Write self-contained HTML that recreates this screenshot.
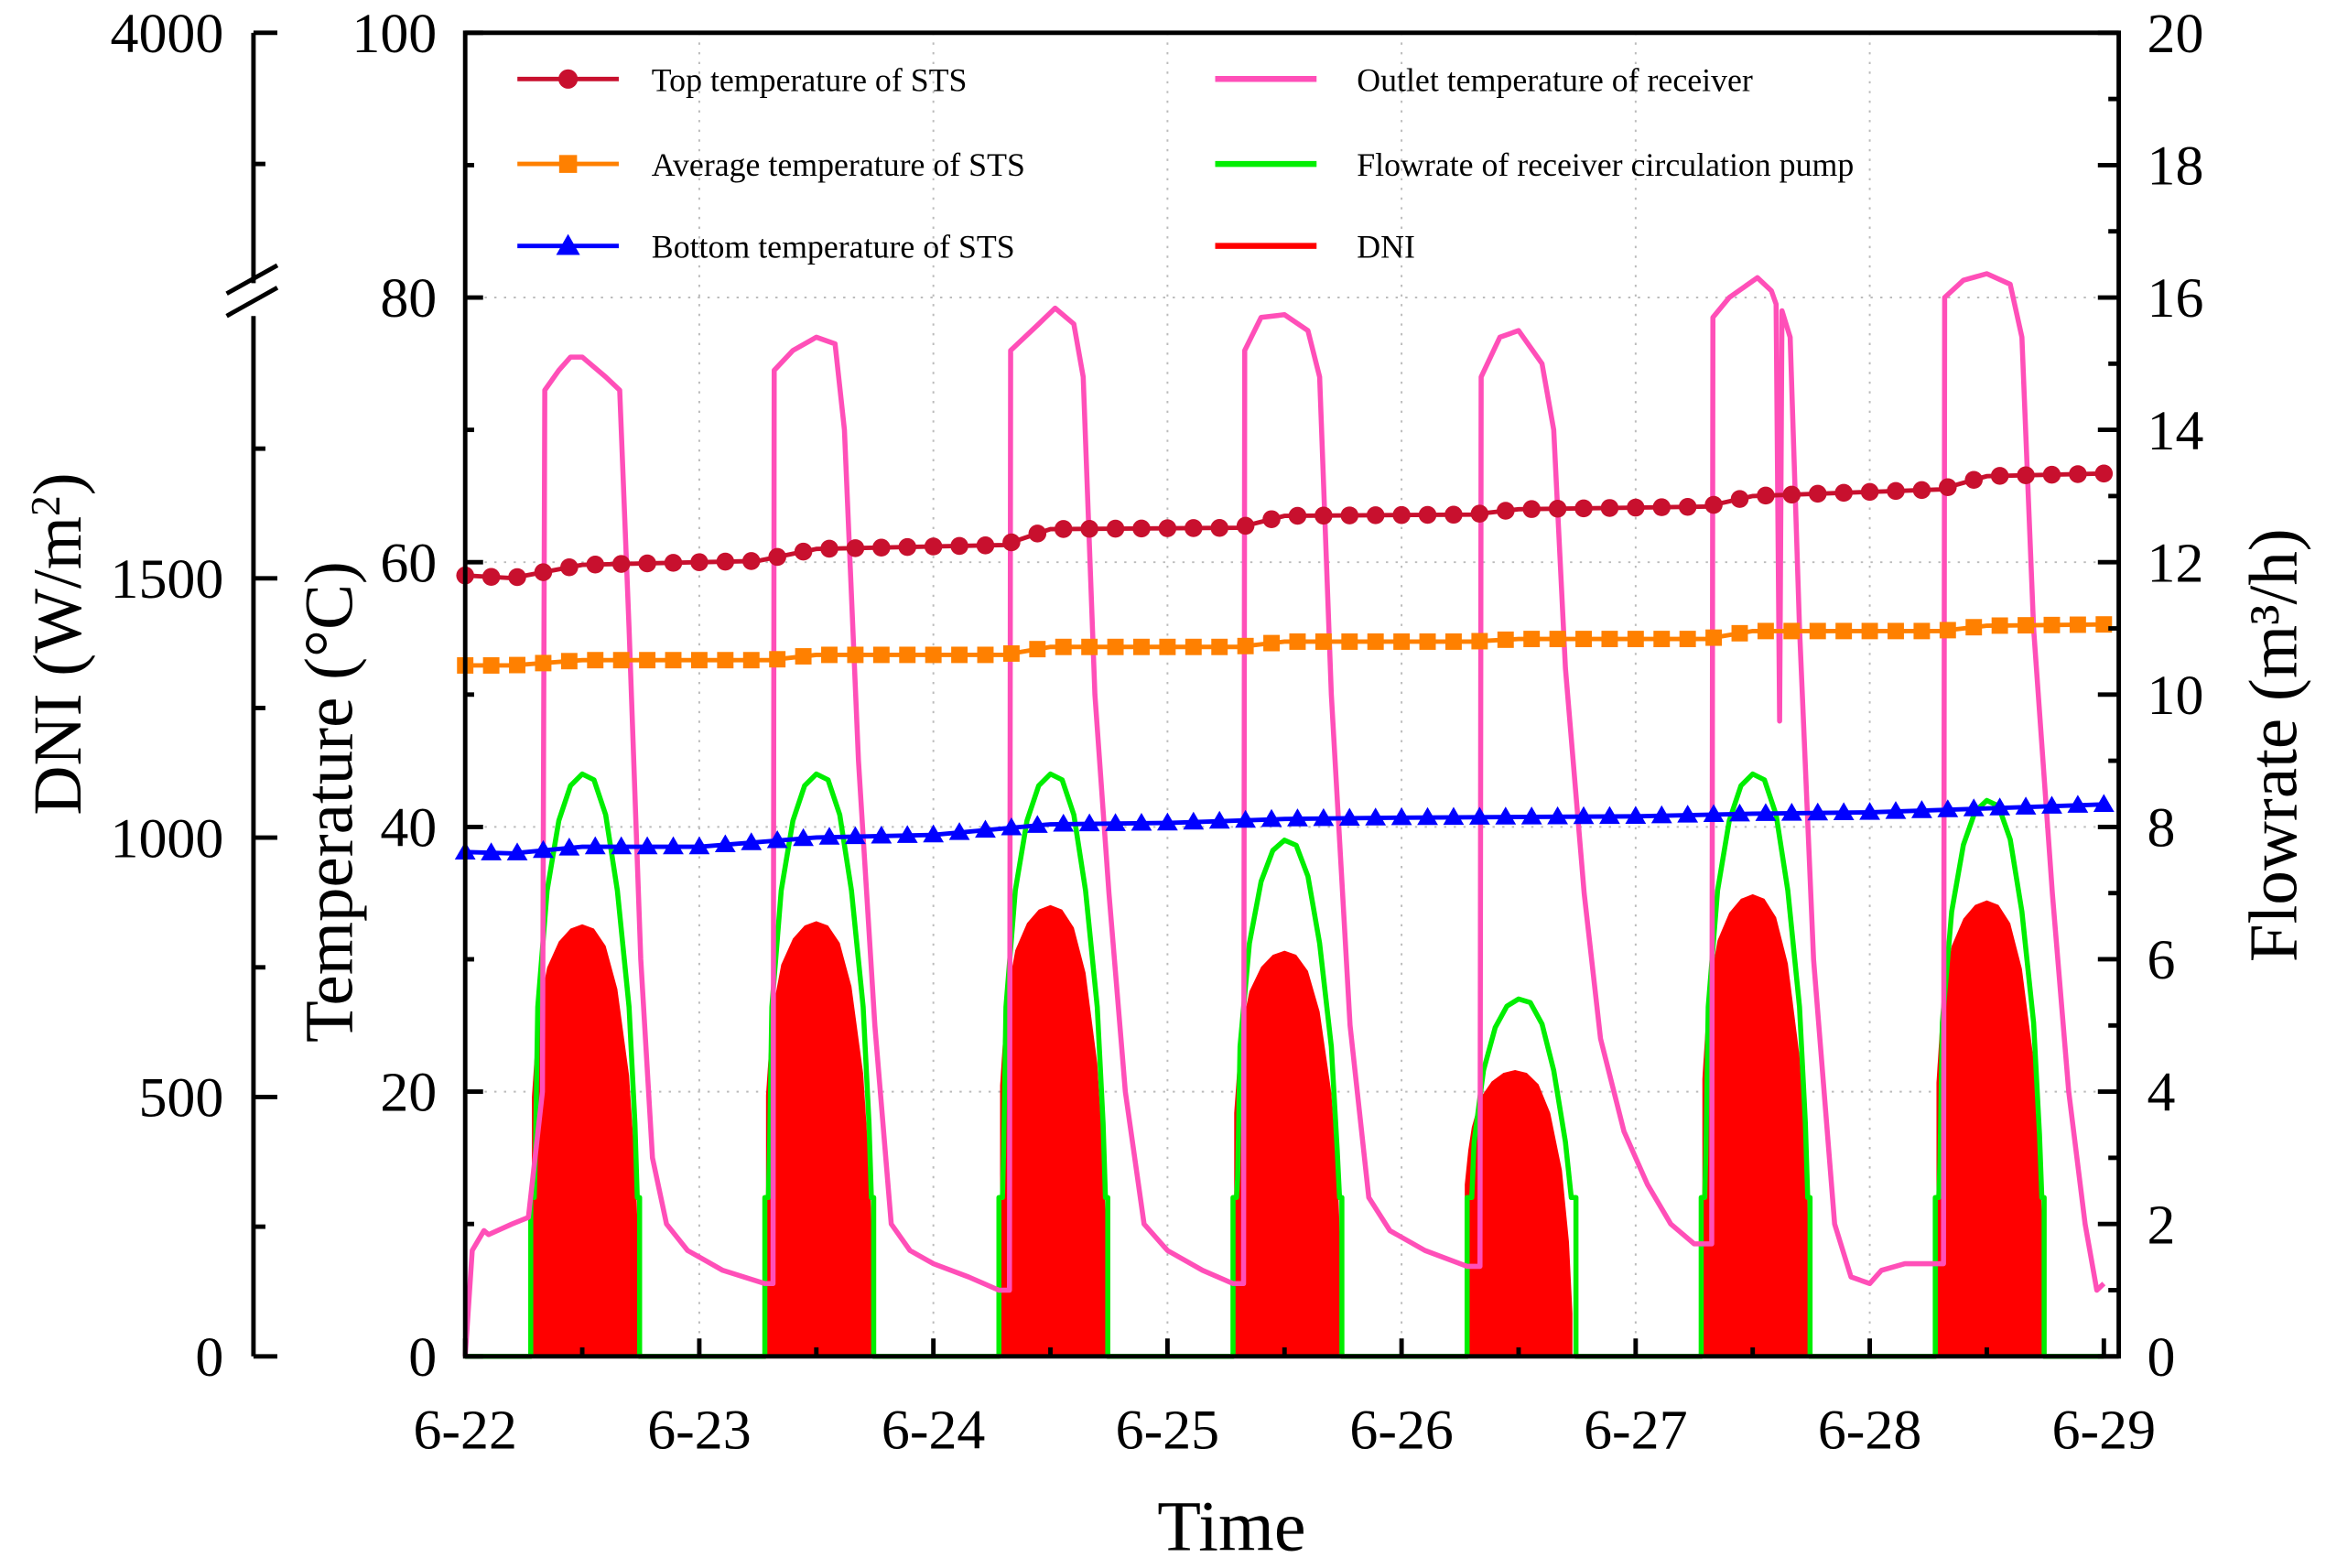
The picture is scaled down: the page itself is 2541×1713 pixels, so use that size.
<!DOCTYPE html>
<html><head><meta charset="utf-8">
<style>
html,body{margin:0;padding:0;background:#fff;}
svg{display:block;}
text{font-family:"Liberation Serif","Times New Roman",serif;fill:#000;}
</style></head>
<body>
<svg id="chart" xmlns="http://www.w3.org/2000/svg" width="2541" height="1713" viewBox="0 0 1560 1052" preserveAspectRatio="none">
  <g id="grid"></g>
  <g id="series"></g>
  <g id="axes"></g>
  <g id="legend"></g>
</svg>
<script>
// ---------- data ----------
const dayLabels = ["6-22","6-23","6-24","6-25","6-26","6-27","6-28","6-29"];
const tempTicks = [0,20,40,60,80,100];
const flowTicks = [0,2,4,6,8,10,12,14,16,18,20];
const dniTicks = [0,500,1000,1500];
const dniPeaks = [833,839,870,782,552,891,879];
const dniStart = [0.285,0.285,0.285,0.285,0.27,0.285,0.285];
const dniShapeT = [0,0.015,0.03,0.065,0.115,0.165,0.215,0.265,0.315,0.365,0.415,0.445,0.46];
const dniShapeF = [0.6,0.72,0.8,0.9,0.96,0.99,1.0,0.99,0.95,0.85,0.65,0.4,0.15];
const flowPeaks = [8.8,8.8,8.8,7.8,5.4,8.8,8.4];
const flowShapeT = [0.30,0.31,0.35,0.40,0.45,0.50,0.55,0.60,0.65,0.70,0.725];
const flowShapeF = [0.35,0.6,0.8,0.92,0.98,1.0,0.99,0.93,0.8,0.6,0.4];
const flowBase = 2.4;
const outletT = [0,0.03,0.08,0.1,0.2,0.27,0.33,0.34,0.4,0.45,0.5,0.6,0.66,0.7,0.75,0.8,0.86,0.95,1.1,1.28,
 1.315,1.32,1.4,1.5,1.58,1.62,1.68,1.75,1.82,1.9,2.0,2.15,2.28,
 2.325,2.33,2.45,2.52,2.6,2.64,2.69,2.75,2.82,2.9,3.0,3.15,3.28,
 3.325,3.33,3.4,3.5,3.6,3.65,3.7,3.78,3.86,3.95,4.1,4.28,
 4.335,4.34,4.42,4.5,4.6,4.65,4.7,4.78,4.85,4.95,5.05,5.15,5.25,
 5.325,5.33,5.4,5.52,5.58,5.6,5.615,5.625,5.66,5.7,5.76,5.85,5.92,6.0,6.05,6.15,6.28,
 6.315,6.32,6.4,6.5,6.6,6.65,6.7,6.78,6.85,6.92,6.97,7.0];
const outletV = [0,8,9.5,9.2,10,10.5,20,73,74.5,75.5,75.5,74,73,55,30,15,10,8,6.5,5.5,
 5.5,74.5,76,77,76.5,70,45,25,10,8,7,6,5,
 5,76,78,79.2,78,74,50,35,20,10,8,6.5,5.5,
 5.5,76,78.5,78.7,77.5,74,50,25,12,9.5,8,6.8,
 6.8,74,77,77.5,75,70,52,35,24,17,13,10,8.5,
 8.5,78.5,80,81.5,80.5,79.5,48,79,77,55,30,10,6,5.5,6.5,7,7,
 7,80,81.3,81.8,81,77,55,35,20,10,5,5.5];
const topT = [0,0.2,0.5,1.25,1.5,2.3,2.5,3.3,3.5,4.3,4.5,5.3,5.5,6.3,6.5,7];
const topV = [59,58.8,59.8,60.1,61,61.3,62.5,62.6,63.5,63.6,64,64.2,65,65.5,66.5,66.7];
const avgT = [0,0.2,0.5,1.3,1.5,2.3,2.5,3.3,3.5,4.3,4.5,5.3,5.5,6.3,6.5,7];
const avgV = [52.2,52.2,52.6,52.6,53,53,53.6,53.6,54,54,54.2,54.2,54.8,54.8,55.2,55.3];
const botT = [0,0.2,0.5,1,1.5,2,2.5,3,3.5,4,5,5.5,6,7];
const botV = [38.1,38.0,38.5,38.5,39.2,39.4,40.2,40.3,40.6,40.7,40.8,41.0,41.1,41.7];

// ---------- scales ----------
const X0=312, X1=1411, PL=312, PR=1421, PT=22, PB=910;
const x = d => X0 + d*(X1-X0)/7;
const yT = v => PB - v*(PB-PT)/100;
const yF = v => PB - v*(PB-PT)/20;
const yD = v => PB - v*174/500;
const NS="http://www.w3.org/2000/svg";
function el(tag, attrs, parent){const e=document.createElementNS(NS,tag);for(const k in attrs)e.setAttribute(k,attrs[k]);parent.appendChild(e);return e;}
const grid=document.getElementById('grid'), ser=document.getElementById('series'), axes=document.getElementById('axes'), leg=document.getElementById('legend');

// grid
for(let d=1; d<7; d++){const g=el('line',{x1:x(d),x2:x(d),y1:PT,y2:PB,stroke:'#bbb','stroke-width':1.2,'stroke-dasharray':'1.5 5'},grid);

}
[20,40,60,80].forEach(v=>{const g=el('line',{x1:PL,x2:PR,y1:yT(v),y2:yT(v),stroke:'#bbb','stroke-width':1.2,'stroke-dasharray':'1.5 5'},grid);

});

// DNI fill
for(let d=0; d<7; d++){
  const s=d+dniStart[d];
  let pts=[[x(s),yD(0)]];
  dniShapeT.forEach((t,i)=>pts.push([x(s+t),yD(dniPeaks[d]*dniShapeF[i])]));
  pts.push([x(s+dniShapeT[dniShapeT.length-1]),yD(0)]);
  const p=el('polygon',{points:pts.map(q=>q.join(',')).join(' '),fill:'#ff0000'},ser);
  
  
}
// flow
{
  let pts=[[x(0),yF(0)]];
  for(let d=0; d<7; d++){
    const s=d+0.28, e=d+0.745;
    pts.push([x(s),yF(0)],[x(s),yF(flowBase)],[x(s+0.015),yF(flowBase)]);
    flowShapeT.forEach((t,i)=>pts.push([x(d+t),yF(Math.max(flowBase,flowPeaks[d]*flowShapeF[i]))]));
    pts.push([x(e-0.01),yF(flowBase)],[x(e),yF(flowBase)],[x(e),yF(0)]);
  }
  pts.push([x(7),yF(0)]);
  const p=el('polyline',{points:pts.map(q=>q.join(',')).join(' '),fill:'none',stroke:'#00ee00','stroke-width':3.4,'stroke-linejoin':'round'},ser);
  
  
}
// outlet
{
  const pts=outletT.map((t,i)=>[x(t),yT(outletV[i])]);
  const p=el('polyline',{points:pts.map(q=>q.join(',')).join(' '),fill:'none',stroke:'#ff4fb8','stroke-width':3.4,'stroke-linejoin':'round'},ser);
  
  
}
// STS lines with markers
function interp(T,V,t){for(let i=1;i<T.length;i++){if(t<=T[i]){const f=(t-T[i-1])/(T[i]-T[i-1]);return V[i-1]+f*(V[i]-V[i-1]);}}return V[V.length-1];}
function stsSeries(T,V,color,marker,name){
  const pts=T.map((t,i)=>[x(t),yT(V[i])]);
  const p=el('polyline',{points:pts.map(q=>q.join(',')).join(' '),fill:'none',stroke:color,'stroke-width':3},ser);
  
  
  for(let k=0;k<=63;k++){
    const t=k*7/63, cx=x(t), cy=yT(interp(T,V,t));
    let m;
    if(marker==='circle') m=el('circle',{cx:cx,cy:cy,r:6,fill:color},ser);
    else if(marker==='square') m=el('rect',{x:cx-5.5,y:cy-5.5,width:11,height:11,fill:color},ser);
    else m=el('polygon',{points:`${cx},${cy-7} ${cx-7},${cy+5} ${cx+7},${cy+5}`,fill:color},ser);
    
    
  }
}
stsSeries(topT,topV,'#c8102e','circle','top-temperature');
stsSeries(avgT,avgV,'#ff8000','square','average-temperature');
stsSeries(botT,botV,'#0000ff','triangle','bottom-temperature');

// axes frame
const frame=el('rect',{x:PL,y:PT,width:PR-PL,height:PB-PT,fill:'none',stroke:'#000','stroke-width':3},axes);


for(let v=0; v<=100; v+=10){const maj=v%20===0;
 const t=el('line',{x1:PL,x2:PL+(maj?12:6),y1:yT(v),y2:yT(v),stroke:'#000','stroke-width':3},axes);
 
 }
tempTicks.forEach(v=>{const t=el('text',{x:293,y:yT(v)+13,'text-anchor':'end','font-size':38},axes);t.textContent=v;
 
 });
for(let v=0; v<=20; v+=1){const maj=v%2===0;
 const t=el('line',{x1:PR,x2:PR-(maj?14:7),y1:yF(v),y2:yF(v),stroke:'#000','stroke-width':3},axes);
 
 }
flowTicks.forEach(v=>{const t=el('text',{x:1440,y:yF(v)+13,'text-anchor':'start','font-size':38},axes);t.textContent=v;
 
 });
for(let d=0; d<=14; d++){const maj=d%2===0;
 const t=el('line',{x1:x(d/2),x2:x(d/2),y1:PB,y2:PB-(maj?12:6),stroke:'#000','stroke-width':3},axes);
 
 }
dayLabels.forEach((s,i)=>{const t=el('text',{x:x(i),y:972,'text-anchor':'middle','font-size':38},axes);t.textContent=s;
 
 });
const ax=170;
[[PT,190],[212,PB]].forEach(([a,b])=>{const l=el('line',{x1:ax,x2:ax,y1:a,y2:b,stroke:'#000','stroke-width':3},axes);
 
 });
[[152,197,186,178],[152,212,186,193]].forEach(q=>{const l=el('line',{x1:q[0],y1:q[1],x2:q[2],y2:q[3],stroke:'#000','stroke-width':3},axes);
 
 });
for(let v=0; v<=1750; v+=250){const maj=v%500===0;
 const t=el('line',{x1:ax,x2:ax+(maj?16:8),y1:yD(v),y2:yD(v),stroke:'#000','stroke-width':3},axes);
 
 }
[[PT,16],[110,8]].forEach(([yy,len])=>{const t=el('line',{x1:ax,x2:ax+len,y1:yy,y2:yy,stroke:'#000','stroke-width':3},axes);
 
 });
dniTicks.forEach(v=>{const t=el('text',{x:150,y:yD(v)+13,'text-anchor':'end','font-size':38},axes);t.textContent=v;
 
 });
{const t=el('text',{x:150,y:PT+13,'text-anchor':'end','font-size':38},axes);t.textContent='4000';
 
 }
function title(txt,xx,yy,rot,size,name){const t=el('text',{x:xx,y:yy,'text-anchor':'middle','font-size':size,transform:rot?`rotate(-90 ${xx} ${yy})`:''},axes);t.innerHTML=txt;
 
 }
title('DNI (W/m<tspan dy="-14" font-size="28">2</tspan><tspan dy="14">)</tspan>',54,432,true,46,'dni-axis-title');
title('Temperature (°C)',236,538,true,46,'temperature-axis-title');
title('Flowrate (m³/h)',1540,500,true,46,'flowrate-axis-title');
title('Time',826,1040,false,48,'x-axis-title');

const legItems=[
 {x:347,y:53,c:'#c8102e',m:'circle',t:'Top temperature of STS',n:'legend-top-temperature'},
 {x:347,y:110,c:'#ff8000',m:'square',t:'Average temperature of STS',n:'legend-average-temperature'},
 {x:347,y:165,c:'#0000ff',m:'triangle',t:'Bottom temperature of STS',n:'legend-bottom-temperature'},
 {x:815,y:53,c:'#ff4fb8',m:null,t:'Outlet temperature of receiver',n:'legend-outlet-temperature'},
 {x:815,y:110,c:'#00ee00',m:null,t:'Flowrate of receiver circulation pump',n:'legend-flowrate'},
 {x:815,y:165,c:'#ff0000',m:null,t:'DNI',n:'legend-dni'}];
legItems.forEach(it=>{
 const g=el('g',{},leg);
 
 
 el('line',{x1:it.x,x2:it.x+68,y1:it.y,y2:it.y,stroke:it.c,'stroke-width':it.m?3:4},g);
 const cx=it.x+34, cy=it.y;
 if(it.m==='circle') el('circle',{cx:cx,cy:cy,r:6.5,fill:it.c},g);
 if(it.m==='square') el('rect',{x:cx-6,y:cy-6,width:12,height:12,fill:it.c},g);
 if(it.m==='triangle') el('polygon',{points:`${cx},${cy-8} ${cx-8},${cy+6} ${cx+8},${cy+6}`,fill:it.c},g);
 const t=el('text',{x:it.m?437:910,y:it.y+8,'font-size':22},g);t.textContent=it.t;
});
</script>
</body></html>
